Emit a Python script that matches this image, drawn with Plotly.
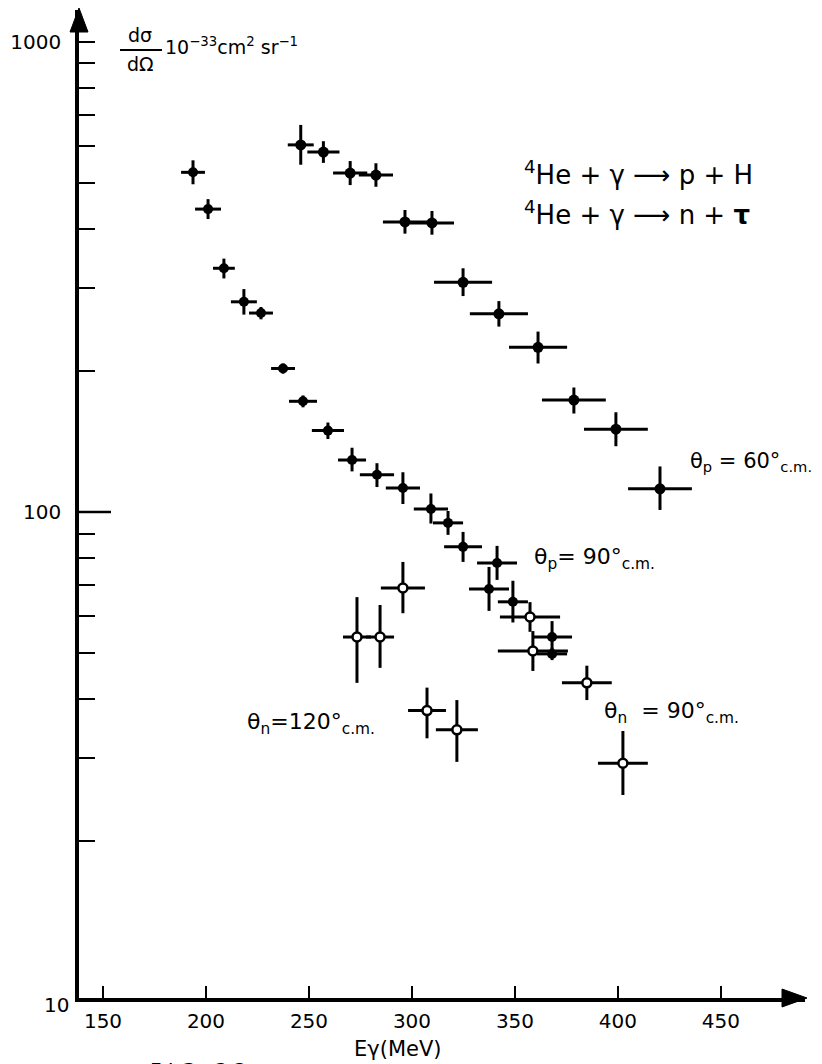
import plotly.graph_objects as go

# ---------------- data ----------------
# theta_p = 60 deg c.m.  (4He + gamma -> p + 3H)
p60_E   = [246, 257, 270, 282.5, 296.6, 309.7, 324.8, 342.2, 361.2, 378.6, 399, 420.4]
p60_sig = [604, 583, 526, 521, 414, 412, 308, 264, 224, 173, 150, 112]
p60_dE  = [6.3, 7.8, 8.3, 8.3, 10.7, 10.7, 14.1, 14.1, 14.1, 15.5, 15.5, 15.5]
p60_up  = [62, 32, 32, 31, 25, 25, 22, 17, 18, 11, 13, 13]
p60_dn  = [56, 30, 30, 29, 23, 23, 20, 16, 17, 11, 12, 11]

# theta_p = 90 deg c.m.
p90_E   = [193.7, 201, 208.7, 218.4, 226.7, 237.4, 247.1, 259.2, 270.9, 283, 295.6,
           309.2, 317.5, 324.8, 341.3, 337.4, 349, 368, 368]
p90_sig = [528, 441, 330, 280, 265, 202, 172, 149, 129, 120, 112.5,
           101.5, 94.8, 84.3, 77.9, 68.6, 64.4, 54.2, 49.9]
p90_dE  = [5.8, 6.3, 5.3, 6.3, 5.8, 5.8, 6.8, 7.8, 6.8, 8.3, 8.3,
           8.3, 7.3, 9.2, 9.7, 9.7, 7.3, 9.7, 7.3]
p90_up  = [32, 22, 16, 18, 8, 5, 5, 6, 8, 7, 9, 8, 5.7, 6.4, 6.8, 7.8, 7, 4.4, 1.5]
p90_dn  = [30, 21, 16, 17, 8, 5, 5, 6, 7, 7, 8.5, 7, 5.4, 6, 6.2, 7, 6.2, 4.1, 1.5]

# theta_n = 90 deg c.m.  (4He + gamma -> n + 3He)
n90_E   = [357.3, 358.7, 384.9, 402.4]
n90_sig = [59.8, 50.6, 43.3, 29.2]
n90_dE  = [14.6, 17, 12.1, 12.1]
n90_up  = [4.5, 5.2, 3.8, 5.0]
n90_dn  = [4.2, 4.7, 3.5, 4.2]

# theta_n = 120 deg c.m.
n120_E   = [273.3, 284.5, 295.6, 307.3, 321.8]
n120_sig = [54.2, 54.2, 68.9, 37.8, 34.4]
n120_dE  = [6.8, 6.8, 10.7, 9.2, 10.2]
n120_up  = [11.7, 9.2, 9.4, 4.5, 5.4]
n120_dn  = [10.9, 7.6, 8.0, 4.8, 5.0]

x_ticks = [150, 200, 250, 300, 350, 400, 450]
y_major = [100, 1000]
y_major_text = ["100", "1000"]
y_minor = [20, 30, 40, 50, 60, 70, 80, 90, 200, 300, 400, 500, 600, 700, 800, 900]

# ---------------- geometry helpers (pixel -> paper) ----------------
W, H = 822, 1064
ML, MR, MT, MB = 79, 17, 10, 66
PW, PH = W - ML - MR, H - MT - MB


def px(x):
    return (x - ML) / PW


def py(y):
    return (H - MB - y) / PH


FONT = "DejaVu Sans"
BLACK = "#000000"

fig = go.Figure()


def add_series(E, sig, dE, up, dn, open_marker, msize):
    fig.add_trace(go.Scatter(
        x=E, y=sig, mode="markers",
        marker=dict(symbol="circle", size=msize,
                    color="white" if open_marker else BLACK,
                    line=dict(color=BLACK, width=2.5 if open_marker else 0)),
        error_x=dict(type="data", array=dE, symmetric=True,
                     thickness=3, width=0, color=BLACK),
        error_y=dict(type="data", array=up, arrayminus=dn, symmetric=False,
                     thickness=3, width=0, color=BLACK),
        showlegend=False, hoverinfo="x+y"))


add_series(p60_E, p60_sig, p60_dE, p60_up, p60_dn, False, 11)
add_series(p90_E, p90_sig, p90_dE, p90_up, p90_dn, False, 10)
add_series(n90_E, n90_sig, n90_dE, n90_up, n90_dn, True, 9)
add_series(n120_E, n120_sig, n120_dE, n120_up, n120_dn, True, 9)

ann = []


def text(x, y, s, size, xanchor="left", yanchor="middle"):
    ann.append(dict(x=px(x), y=py(y), xref="paper", yref="paper", text=s,
                    showarrow=False, xanchor=xanchor, yanchor=yanchor,
                    font=dict(family=FONT, size=size, color=BLACK)))


# y-axis title (fraction)
text(140, 35, "dσ", 19, xanchor="center")
text(140, 64, "dΩ", 19, xanchor="center")
text(163, 46, "10<sup>−33</sup>cm<sup>2</sup> sr<sup>−1</sup>", 19)
# "10" at the corner
text(71, 1005, "10", 20, xanchor="right")
# x title and figure number
text(398, 1049, "Eγ(MeV)", 21, xanchor="center")
text(148, 1056, "F I G.  3 2", 20, yanchor="top")
# reactions
text(522, 173, "<sup>4</sup>He + γ ⟶ p + H", 26)
text(522, 213, "<sup>4</sup>He + γ ⟶ n + <b>τ</b>", 26)
# curve labels
text(688, 462, "θ<sub>p</sub> = 60°<sub>c.m.</sub>", 21)
text(532, 558, "θ<sub>p</sub>= 90°<sub>c.m.</sub>", 22)
text(602, 712, "θ<sub>n</sub>  = 90°<sub>c.m.</sub>", 22)
text(245, 723, "θ<sub>n</sub>=120°<sub>c.m.</sub>", 22)

shapes = [
    # fraction bar of dσ/dΩ
    dict(type="line", xref="paper", yref="paper", x0=px(120), x1=px(162),
         y0=py(50), y1=py(50), line=dict(color=BLACK, width=2)),
    # longer tick at 100
    dict(type="line", xref="x domain", yref="y", x0=0, x1=32 / PW,
         y0=100, y1=100, line=dict(color=BLACK, width=2.5)),
    # arrow head on y axis
    dict(type="path", xref="paper", yref="paper",
         path=f"M {px(70)} {py(32)} L {px(79)} {py(8)} L {px(88)} {py(32)} Z",
         fillcolor=BLACK, line=dict(color=BLACK, width=1)),
    # arrow head on x axis
    dict(type="path", xref="paper", yref="paper",
         path=f"M {px(782)} {py(989)} L {px(807)} {py(998)} L {px(782)} {py(1007)} Z",
         fillcolor=BLACK, line=dict(color=BLACK, width=1)),
]

fig.update_layout(
    width=W, height=H,
    margin=dict(l=ML, r=MR, t=MT, b=MB, pad=0),
    paper_bgcolor="white", plot_bgcolor="white",
    font=dict(family=FONT, color=BLACK),
    annotations=ann, shapes=shapes,
    xaxis=dict(range=[138.35, 490.8], tickmode="array", tickvals=x_ticks,
               ticks="inside", ticklen=12, tickwidth=2, tickcolor=BLACK,
               showline=True, linewidth=3.5, linecolor=BLACK,
               showgrid=False, zeroline=False,
               tickfont=dict(family=FONT, size=20, color=BLACK),
               ticklabelstandoff=2),
    yaxis=dict(type="log", range=[0.966, 3.068],
               tickmode="array", tickvals=y_major, ticktext=y_major_text,
               ticks="inside", ticklen=16, tickwidth=2, tickcolor=BLACK,
               minor=dict(tickmode="array", tickvals=y_minor, ticks="inside",
                          ticklen=16, tickwidth=2, tickcolor=BLACK, showgrid=False),
               showline=True, linewidth=3.5, linecolor=BLACK,
               showgrid=False, zeroline=False,
               tickfont=dict(family=FONT, size=20, color=BLACK),
               ticklabelstandoff=10),
)

fig.write_html("out.html")
